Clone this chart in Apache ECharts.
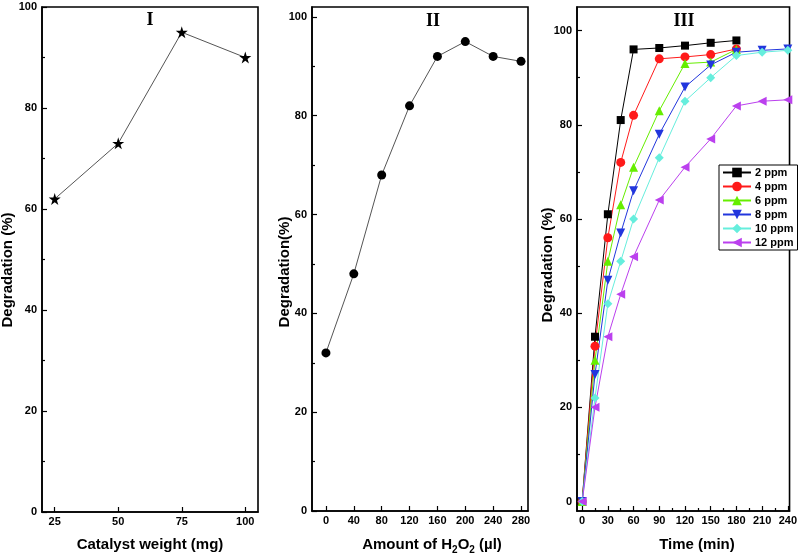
<!DOCTYPE html>
<html>
<head>
<meta charset="utf-8">
<script src="https://cdn.jsdelivr.net/npm/echarts@6/dist/echarts.min.js"></script>
<style>html,body{margin:0;padding:0;background:#fff}#c{width:800px;height:557px}</style>
</head>
<body>
<div id="c"></div>
<script>
// Panel I
const catalystWeight = [25, 50, 75, 100];
const degradationCatalyst = [62, 73, 95, 90];
const catalystTicks = [25, 50, 75, 100];
// Panel II
const h2o2Amount = [0, 40, 80, 120, 160, 200, 240, 280];
const degradationH2O2 = [32, 48, 68, 82, 92, 95, 92, 91];
const h2o2Ticks = [0, 40, 80, 120, 160, 200, 240, 280];
// Panel III
const timeShort = [0, 15, 30, 45, 60, 90, 120, 150, 180];
const timeLong = [0, 15, 30, 45, 60, 90, 120, 150, 180, 210, 240];
const ppm2 = [0, 35, 61, 81, 96, 96.3, 96.8, 97.4, 97.9];
const ppm4 = [0, 33, 56, 72, 82, 94, 94.4, 94.9, 96.1];
const ppm6 = [0, 30, 51, 63, 71, 83, 93, 93.3, 96];
const ppm8 = [0, 27, 47, 57, 66, 78, 88, 92.7, 95.4, 95.8, 96.1];
const ppm10 = [0, 22, 42, 51, 60, 73, 85, 90, 94.7, 95.4, 95.8];
const ppm12 = [0, 20, 35, 44, 52, 64, 71, 77, 84, 85, 85.3];
const seriesNames = ['2 ppm', '4 ppm', '6 ppm', '8 ppm', '10 ppm', '12 ppm'];
const timeTicks = [0, 30, 60, 90, 120, 150, 180, 210, 240];
const timeMinorTicks = [15, 45, 75, 105, 135, 165, 195, 225];
const degTicks = [0, 20, 40, 60, 80, 100];
const degMinorTicks = [10, 30, 50, 70, 90];

const FONT = 'Liberation Sans, Arial, sans-serif';
const STAR = 'path://M50,0 L61,35 L98,35 L68,57 L79,91 L50,70 L21,91 L32,57 L2,35 L39,35 Z';

function pairs(xs, ys) { return ys.map((y, i) => [xs[i], y]); }

function mainAxis(grid, min, max, ticks, isX) {
  return {
    type: 'value', gridIndex: grid, min: min, max: max,
    position: isX ? 'bottom' : 'left',
    axisLine: { show: true, onZero: false, lineStyle: { color: '#000', width: 1.6 } },
    axisTick: { show: true, inside: true, length: 5, customValues: ticks, lineStyle: { color: '#000', width: 1.2 } },
    axisLabel: { show: true, customValues: ticks, margin: isX ? 4 : 5, color: '#000', fontSize: 11, fontWeight: 'bold', fontFamily: FONT },
    splitLine: { show: false }
  };
}
function minorAxis(grid, min, max, ticks, isX) {
  return {
    type: 'value', gridIndex: grid, min: min, max: max,
    position: isX ? 'bottom' : 'left', offset: 0,
    axisLine: { show: false, onZero: false },
    axisTick: { show: true, inside: true, length: 3, customValues: ticks, lineStyle: { color: '#000', width: 1.2 } },
    axisLabel: { show: false },
    splitLine: { show: false }
  };
}

const gridBase = { show: true, borderColor: '#000', borderWidth: 1.6, containLabel: false };

const colors = ['#000000', '#ff1a1a', '#66ee00', '#2236dd', '#66eedd', '#bb40ee'];
const symbols = ['rect', 'circle', 'triangle', 'triangle', 'diamond', 'triangle'];
const rotates = [0, 0, 0, 180, 0, 90];
const sizes = [8, 9, 9, 9, 9, 9];
const p3Data = [pairs(timeShort, ppm2), pairs(timeShort, ppm4), pairs(timeShort, ppm6),
  pairs(timeLong, ppm8), pairs(timeLong, ppm10), pairs(timeLong, ppm12)];

const series = [
  { type: 'line', xAxisIndex: 0, yAxisIndex: 0, data: pairs(catalystWeight, degradationCatalyst),
    symbol: STAR, symbolSize: 12, itemStyle: { color: '#000' }, lineStyle: { color: '#555', width: 1 }, animation: false },
  { type: 'line', xAxisIndex: 2, yAxisIndex: 2, data: pairs(h2o2Amount, degradationH2O2),
    symbol: 'circle', symbolSize: 9, itemStyle: { color: '#000' }, lineStyle: { color: '#555', width: 1 }, animation: false }
];
p3Data.forEach((d, i) => {
  series.push({
    type: 'line', name: seriesNames[i], xAxisIndex: 4, yAxisIndex: 4, data: d,
    symbol: symbols[i], symbolRotate: rotates[i], symbolSize: sizes[i],
    itemStyle: { color: colors[i] }, lineStyle: { color: colors[i], width: 1 }, animation: false
  });
});

const titleFont = 'bold 15px ' + FONT;
const romanFont = 'bold 18px Liberation Serif, Times New Roman, serif';
function txt(x, y, text, font, rot) {
  return { type: 'text', x: x, y: y, rotation: rot || 0,
    style: { text: text, font: font, fill: '#000', align: 'center', verticalAlign: 'middle' } };
}
const subRich = {
  n: { fontSize: 15, fontWeight: 'bold', fontFamily: FONT, lineHeight: 20, fill: '#000' },
  s: { fontSize: 10, fontWeight: 'bold', fontFamily: FONT, lineHeight: 10, verticalAlign: 'bottom', fill: '#000' }
};

const option = {
  backgroundColor: '#fff',
  animation: false,
  grid: [
    Object.assign({ left: 42, width: 216, top: 7, height: 505 }, gridBase),
    Object.assign({ left: 312, width: 216, top: 7, height: 504 }, gridBase),
    Object.assign({ left: 577, width: 215, top: 7, height: 504 }, gridBase)
  ],
  xAxis: [
    mainAxis(0, 20, 105, catalystTicks, true),
    minorAxis(0, 20, 105, [], true),
    mainAxis(1, -20, 290, h2o2Ticks, true),
    minorAxis(1, -20, 290, [], true),
    mainAxis(2, -6, 242, timeTicks, true),
    minorAxis(2, -6, 242, timeMinorTicks, true)
  ],
  yAxis: [
    mainAxis(0, 0, 100, degTicks, false),
    minorAxis(0, 0, 100, degMinorTicks, false),
    mainAxis(1, 0, 102, degTicks, false),
    minorAxis(1, 0, 102, degMinorTicks, false),
    mainAxis(2, -2, 105, degTicks, false),
    minorAxis(2, -2, 105, degMinorTicks, false)
  ],
  legend: {
    data: seriesNames, left: 719, top: 165, orient: 'vertical',
    itemWidth: 28, itemHeight: 12, itemGap: 3,
    padding: [2, 4, 2, 3],
    borderColor: '#000', borderWidth: 1, backgroundColor: '#fff',
    textStyle: { color: '#000', fontSize: 11, fontWeight: 'bold', fontFamily: FONT, padding: [0, 0, 0, -1] }
  },
  graphic: [
    txt(150, 20, 'I', romanFont),
    txt(433, 21, 'II', romanFont),
    txt(684, 21, 'III', romanFont),
    txt(8, 270, 'Degradation (%)', titleFont, Math.PI / 2),
    txt(285, 272, 'Degradation(%)', titleFont, Math.PI / 2),
    txt(548, 265, 'Degradation (%)', titleFont, Math.PI / 2),
    txt(150, 545, 'Catalyst weight (mg)', titleFont),
    { type: 'text', x: 432, y: 545,
      style: { text: '{n|Amount of H}{s|2}{n|O}{s|2}{n| (\u00b5l)}', rich: subRich, align: 'center', verticalAlign: 'middle', fill: '#000', font: titleFont } },
    txt(697, 545, 'Time (min)', titleFont)
  ],
  series: series
};

const chart = echarts.init(document.getElementById('c'), null, { renderer: 'canvas' });
chart.setOption(option);
</script>
</body>
</html>
